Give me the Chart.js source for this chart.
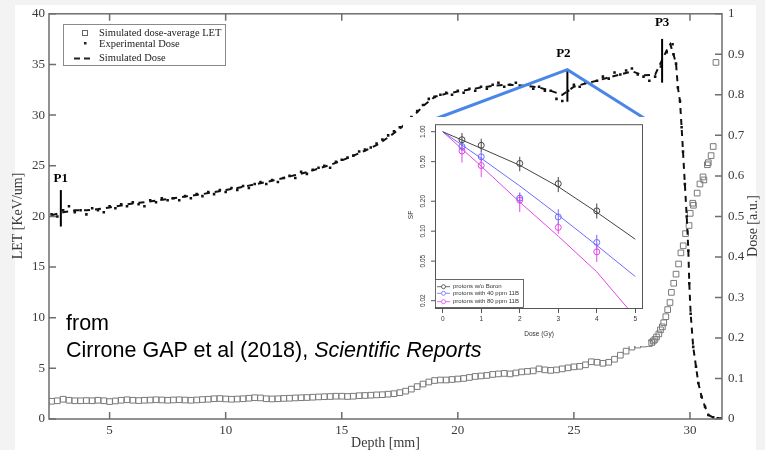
<!DOCTYPE html>
<html>
<head>
<meta charset="utf-8">
<script src="https://cdn.jsdelivr.net/npm/chart.js@4.4.1/dist/chart.umd.min.js"></script>
<style>
  html, body { margin: 0; padding: 0; background: #f3f3f3; }
  #wrap { position: relative; width: 765px; height: 450px; overflow: hidden; }
  #main { position: absolute; left: 0; top: 0; }
  #panel { position: absolute; left: 403px; top: 117px; width: 245px; height: 229px; background: #fff; }
  #panel canvas { display: block; }
  #credit { position: absolute; left: 66px; top: 310px; font: 21.5px/27px "Liberation Sans", Arial, sans-serif; color: #000; white-space: nowrap; }
</style>
</head>
<body>
<div id="wrap">
  <canvas id="main" width="765" height="450"></canvas>
  <div id="panel"><canvas id="inset" width="245" height="229"></canvas></div>
  <div id="credit">from<br>Cirrone GAP et al (2018), <i>Scientific Reports</i></div>
</div>
<script>
// ---- main figure data (depth in mm) ----
const depthTicks = [5, 10, 15, 20, 25, 30];
const letTicks = [0, 5, 10, 15, 20, 25, 30, 35, 40];
const doseTicks = [0, 0.1, 0.2, 0.3, 0.4, 0.5, 0.6, 0.7, 0.8, 0.9, 1];

// simulated dose-average LET, one value every 0.25 mm from 2.5 mm
const letStart = 2.5, letStep = 0.25;
const letValues = [
  1.75, 1.8,
  1.95, 1.85, 1.8, 1.8,
  1.82, 1.8, 1.85, 1.8,
  1.72, 1.78, 1.85, 1.9,
  1.85, 1.82, 1.85, 1.87,
  1.9, 1.88, 1.85, 1.88,
  1.9, 1.87, 1.85, 1.88,
  1.92, 1.95, 2.0, 2.02,
  1.98, 1.95, 1.97, 2.0,
  2.05, 2.1, 2.08, 2.0,
  1.98, 2.0, 2.03, 2.05,
  2.08, 2.1, 2.12, 2.15,
  2.18, 2.2, 2.22, 2.25,
  2.25, 2.22, 2.25, 2.3,
  2.32, 2.35, 2.38, 2.4,
  2.45, 2.5, 2.6, 2.75,
  2.95, 3.2, 3.45, 3.65,
  3.8, 3.85, 3.85, 3.9,
  3.95, 4.0, 4.1, 4.2,
  4.25, 4.3, 4.4, 4.45,
  4.5, 4.45, 4.55, 4.65,
  4.7, 4.75, 4.95, 4.85,
  4.8, 4.85, 4.95, 5.05,
  5.15, 5.2, 5.35, 5.65,
  5.6, 5.5, 5.6, 5.9,
  6.3, 6.7, 7.1, 7.3,
  7.4, 7.45
];
// LET near and past the Bragg peak
const letTailDepth = [28.35, 28.42, 28.49, 28.56, 28.66, 28.73, 28.81, 28.87, 28.96, 29.04, 29.14, 29.2, 29.3, 29.4, 29.51, 29.61,
  29.71, 29.81, 29.96, 30.01, 30.12, 30.15, 30.31, 30.43, 30.56, 30.6, 30.75, 30.79, 30.91, 31.0, 31.12];
const letTailValues = [7.55, 7.7, 7.85, 8.1, 8.4, 8.8, 9.1, 9.5, 10.1, 10.8, 11.5, 12.5, 13.4, 14.3, 15.3, 16.4,
  17.1, 18.3, 19.1, 20.3, 21.3, 21.1, 22.3, 23.2, 23.9, 23.6, 25.1, 25.3, 26.0, 26.9, 35.2];

// experimental dose (a.u.), every 0.25 mm from 2.5 mm
const expStart = 2.5, expStep = 0.25;
const expDose = [
  0.505, 0.50,
  0.515, 0.525, 0.51, 0.515,
  0.505, 0.52, 0.515, 0.51,
  0.525, 0.52, 0.53, 0.525,
  0.535, 0.53, 0.525, 0.54,
  0.535, 0.545, 0.54, 0.545,
  0.54, 0.55, 0.545, 0.555,
  0.55, 0.56, 0.555, 0.565,
  0.56, 0.57, 0.565, 0.575,
  0.57, 0.58, 0.585, 0.58,
  0.59, 0.585, 0.595, 0.6,
  0.595, 0.61, 0.605, 0.615,
  0.62, 0.625, 0.62, 0.635,
  0.64, 0.645, 0.65, 0.66,
  0.665, 0.67, 0.68, 0.69,
  0.7, 0.71, 0.72, 0.73,
  0.745, 0.76, 0.775, 0.79,
  0.795, 0.8, 0.805, 0.8,
  0.81, 0.805, 0.815, 0.81,
  0.82, 0.815, 0.825, 0.83,
  0.82, 0.825, 0.83, 0.82,
  0.825, 0.815, 0.82, 0.81,
  0.81, 0.79, 0.785, 0.81,
  0.825, 0.82, 0.83, 0.825,
  0.835, 0.845, 0.84, 0.855,
  0.85, 0.86, 0.865, 0.85,
  0.845, 0.835, 0.845, 0.87,
  0.905, 0.925
];

// simulated dose, every 0.5 mm from 2.5 mm
const simStart = 2.5, simStep = 0.5;
const simDose = [
  0.503,
  0.51, 0.515,
  0.515, 0.518,
  0.522, 0.527,
  0.532, 0.535,
  0.539, 0.543,
  0.547, 0.551,
  0.555, 0.56,
  0.565, 0.57,
  0.576, 0.582,
  0.588, 0.595,
  0.602, 0.609,
  0.618, 0.627,
  0.638, 0.65,
  0.662, 0.676,
  0.695, 0.716,
  0.742, 0.772,
  0.795, 0.803,
  0.808, 0.813,
  0.818, 0.822,
  0.825, 0.824,
  0.822, 0.818,
  0.81, 0.80,
  0.82, 0.828,
  0.835, 0.843,
  0.85, 0.858,
  0.848, 0.85
];
const simPeakDepth = [28.75, 29.0, 29.15];
const simPeakDose = [0.88, 0.91, 0.925];

// distal fall-off, shared by measurement and simulation
const falloffDepth = [29.29, 29.4, 29.48, 29.57, 29.64, 29.7, 29.78, 29.86, 29.93, 29.97, 30.03, 30.14, 30.26, 30.36, 30.5, 30.65, 30.79, 31.0, 31.2, 31.38];
const falloffDose = [0.90, 0.877, 0.818, 0.785, 0.72, 0.66, 0.58, 0.50, 0.416, 0.335, 0.26, 0.178, 0.129, 0.089, 0.055, 0.03, 0.01, 0.004, 0.002, 0.002];

// P1..P3 markers: depth, dose range
const markerNames = ['P1', 'P2', 'P3'];
const markerDepth = [2.9, 24.72, 28.8];
const markerLow = [0.475, 0.783, 0.83];
const markerHigh = [0.565, 0.862, 0.938];

// ---- inset (survival fraction) data ----
const insetDoses = [0.5, 1, 2, 3, 4];
const sfNoBoron = [0.83, 0.73, 0.48, 0.30, 0.16];
const sfNoBoronLo = [0.72, 0.63, 0.40, 0.247, 0.134];
const sfNoBoronHi = [0.97, 0.85, 0.56, 0.35, 0.19];
const sf40 = [0.71, 0.56, 0.215, 0.139, 0.077];
const sf40Lo = [0.64, 0.49, 0.19, 0.118, 0.065];
const sf40Hi = [0.77, 0.64, 0.245, 0.166, 0.092];
const sf80 = [0.64, 0.457, 0.205, 0.109, 0.062];
const sf80Lo = [0.49, 0.35, 0.156, 0.094, 0.049];
const sf80Hi = [0.72, 0.55, 0.24, 0.122, 0.075];
const fitDose = [0, 1, 2, 3, 4, 5];
const fitNoBoron = [1.0, 0.68, 0.46, 0.28, 0.155, 0.083];
const fit40 = [1.0, 0.54, 0.285, 0.145, 0.072, 0.035];
const fit80Dose = [0, 1, 2, 3, 4, 4.82];
const fit80 = [1.0, 0.45, 0.196, 0.089, 0.039, 0.0165];
const sfTicks = [0.02, 0.05, 0.1, 0.2, 0.5, 1];
const sfTickLabels = ['0.02', '0.05', '0.10', '0.20', '0.50', '1.00'];
const gyTicks = [0, 1, 2, 3, 4, 5];

const serif = '"Liberation Serif", "Times New Roman", serif';
const sans = '"Liberation Sans", Arial, sans-serif';
const axisColor = '#6e6e6e';
const textColor = '#3a3a3a';

function grid(start, step, values) {
  return values.map((v, i) => ({ x: +(start + i * step).toFixed(3), y: v }));
}
function pairs(xs, ys) {
  return xs.map((x, i) => ({ x: x, y: ys[i] }));
}

const letPoints = grid(letStart, letStep, letValues).concat(pairs(letTailDepth, letTailValues));
const expPoints = grid(expStart, expStep, expDose).concat(pairs(falloffDepth, falloffDose));
const simPoints = grid(simStart, simStep, simDose).concat(pairs(simPeakDepth, simPeakDose), pairs(falloffDepth, falloffDose));

const mainDecor = {
  id: 'mainDecor',
  beforeDraw(chart) {
    const c = chart.ctx;
    c.save();
    c.fillStyle = '#f3f3f3';
    c.fillRect(0, 0, chart.width, chart.height);
    c.fillStyle = '#ffffff';
    c.fillRect(15, 5, 741, 445);
    c.restore();
  },
  afterDraw(chart) {
    const c = chart.ctx;
    const a = chart.chartArea;
    const x = chart.scales.x, yl = chart.scales.yLet, yd = chart.scales.yDose;
    c.save();

    // frame and inward ticks
    c.strokeStyle = axisColor;
    c.lineWidth = 1.5;
    c.strokeRect(a.left, a.top, a.right - a.left, a.bottom - a.top);
    c.beginPath();
    depthTicks.forEach(v => {
      const px = x.getPixelForValue(v);
      c.moveTo(px, a.bottom); c.lineTo(px, a.bottom - 7);
      c.moveTo(px, a.top); c.lineTo(px, a.top + 7);
    });
    letTicks.forEach(v => {
      const py = yl.getPixelForValue(v);
      c.moveTo(a.left, py); c.lineTo(a.left + 7, py);
    });
    doseTicks.forEach(v => {
      const py = yd.getPixelForValue(v);
      c.moveTo(a.right, py); c.lineTo(a.right - 7, py);
    });
    c.stroke();

    // axis titles
    c.fillStyle = textColor;
    c.font = '14px ' + serif;
    c.textAlign = 'center';
    c.textBaseline = 'middle';
    c.save(); c.translate(18, 216); c.rotate(-Math.PI / 2); c.fillText('LET [KeV/um]', 0, 0); c.restore();
    c.save(); c.translate(753, 226); c.rotate(-Math.PI / 2); c.fillText('Dose [a.u.]', 0, 0); c.restore();
    c.fillText('Depth [mm]', (a.left + a.right) / 2, 443);

    // markers P1..P3
    c.strokeStyle = '#000';
    c.lineWidth = 2;
    c.fillStyle = '#000';
    c.font = 'bold 13px ' + serif;
    c.textBaseline = 'alphabetic';
    const markerTops = [];
    markerNames.forEach((name, i) => {
      const px = x.getPixelForValue(markerDepth[i]);
      const top = yd.getPixelForValue(markerHigh[i]);
      c.beginPath();
      c.moveTo(px, yd.getPixelForValue(markerLow[i]));
      c.lineTo(px, top);
      c.stroke();
      c.fillText(name, px - (i === 1 ? 4 : 0), top - (i === 0 ? 8 : 13));
      markerTops.push([px, top]);
    });

    // zoom lines from P2 to the inset
    c.strokeStyle = '#4a86e8';
    c.lineWidth = 3;
    c.beginPath();
    c.moveTo(435, 119);
    c.lineTo(markerTops[1][0], markerTops[1][1]);
    c.lineTo(645.5, 119);
    c.stroke();

    // legend
    c.fillStyle = '#fff';
    c.fillRect(63, 24, 163, 42);
    c.strokeStyle = '#8a8a8a';
    c.lineWidth = 1;
    c.strokeRect(63.5, 24.5, 162, 41);
    c.strokeStyle = '#666';
    c.strokeRect(82.5, 30.5, 5, 5);
    c.fillStyle = '#222';
    c.fillRect(84, 42, 2.5, 2.5);
    c.fillRect(74, 57.5, 6, 2);
    c.fillRect(84, 57.5, 6, 2);
    c.font = '10.5px ' + serif;
    c.textAlign = 'left';
    c.textBaseline = 'middle';
    c.fillText('Simulated dose-average LET', 99, 33);
    c.fillText('Experimental Dose', 99, 44);
    c.fillText('Simulated Dose', 99, 58);
    c.restore();
  }
};

new Chart(document.getElementById('main'), {
  type: 'scatter',
  data: {
    datasets: [
      {
        label: 'Experimental Dose',
        data: expPoints,
        yAxisID: 'yDose',
        pointStyle: 'rect',
        pointRadius: 1.8,
        backgroundColor: '#111',
        borderColor: '#111',
        borderWidth: 0,
        showLine: false
      },
      {
        label: 'Simulated Dose',
        data: simPoints,
        yAxisID: 'yDose',
        showLine: true,
        borderColor: '#111',
        borderWidth: 2,
        borderDash: [6, 5],
        pointRadius: 0,
        tension: 0
      },
      {
        label: 'Simulated dose-average LET',
        data: letPoints,
        yAxisID: 'yLet',
        pointStyle: 'rect',
        pointRadius: 4,
        backgroundColor: 'rgba(255,255,255,0)',
        borderColor: '#7a7a7a',
        borderWidth: 1,
        showLine: false
      }
    ]
  },
  options: {
    responsive: false,
    animation: false,
    events: [],
    layout: { padding: { top: 13, left: 0, right: 0, bottom: 0 } },
    plugins: { legend: { display: false }, tooltip: { enabled: false } },
    scales: {
      x: {
        type: 'linear',
        min: 2.39,
        max: 31.38,
        grid: { display: false, drawTicks: false },
        border: { display: false },
        ticks: { font: { family: serif, size: 13 }, color: textColor, padding: 4, maxRotation: 0 },
        afterBuildTicks: s => { s.ticks = depthTicks.map(v => ({ value: v })); },
        afterFit: s => { s.height = 31; }
      },
      yLet: {
        position: 'left',
        min: 0,
        max: 40,
        grid: { display: false, drawTicks: false },
        border: { display: false },
        ticks: { font: { family: serif, size: 13 }, color: textColor, padding: 4 },
        afterBuildTicks: s => { s.ticks = letTicks.map(v => ({ value: v })); },
        afterFit: s => { s.width = 49; }
      },
      yDose: {
        position: 'right',
        min: 0,
        max: 1,
        grid: { display: false, drawTicks: false },
        border: { display: false },
        ticks: {
          font: { family: serif, size: 13 }, color: textColor, padding: 6,
          callback: v => String(Number(v.toFixed(1)))
        },
        afterBuildTicks: s => { s.ticks = doseTicks.map(v => ({ value: v })); },
        afterFit: s => { s.width = 43; }
      }
    }
  },
  plugins: [mainDecor]
});

// ---- inset ----
const insetSeries = [
  { name: 'protons w/o Boron', color: '#444444', sf: sfNoBoron, lo: sfNoBoronLo, hi: sfNoBoronHi, fx: fitDose, fy: fitNoBoron },
  { name: 'protons with 40 ppm 11B', color: '#6b6bff', sf: sf40, lo: sf40Lo, hi: sf40Hi, fx: fitDose, fy: fit40 },
  { name: 'protons with 80 ppm 11B', color: '#e048e6', sf: sf80, lo: sf80Lo, hi: sf80Hi, fx: fit80Dose, fy: fit80 }
];

const insetDecor = {
  id: 'insetDecor',
  beforeDatasetsDraw(chart) {
    const c = chart.ctx, x = chart.scales.x, y = chart.scales.y;
    c.save();
    c.lineWidth = 1;
    insetSeries.forEach(s => {
      c.strokeStyle = s.color;
      c.beginPath();
      insetDoses.forEach((d, i) => {
        const px = x.getPixelForValue(d);
        c.moveTo(px, y.getPixelForValue(s.lo[i]));
        c.lineTo(px, y.getPixelForValue(s.hi[i]));
      });
      c.stroke();
    });
    c.restore();
  },
  afterDraw(chart) {
    const c = chart.ctx, a = chart.chartArea, y = chart.scales.y;
    c.save();
    c.strokeStyle = '#555';
    c.lineWidth = 1;
    c.strokeRect(a.left + 0.5, a.top + 0.5, a.right - a.left - 1, a.bottom - a.top - 1);

    // y tick marks outside the box
    c.beginPath();
    sfTicks.forEach(v => {
      const py = y.getPixelForValue(v);
      c.moveTo(a.left - 4, py); c.lineTo(a.left, py);
    });
    c.stroke();

    c.fillStyle = '#333';
    c.font = '6.5px ' + sans;
    c.textAlign = 'center';
    c.textBaseline = 'middle';
    sfTicks.forEach((v, i) => {
      c.save();
      c.translate(20.5, y.getPixelForValue(v));
      c.rotate(-Math.PI / 2);
      c.fillText(sfTickLabels[i], 0, 0);
      c.restore();
    });
    c.save(); c.translate(8.7, 98); c.rotate(-Math.PI / 2); c.fillText('SF', 0, 0); c.restore();
    c.fillText('Dose (Gy)', (a.left + a.right) / 2, 217);

    // legend
    const lx = a.left, ly = 162;
    c.fillStyle = '#fff';
    c.fillRect(lx, ly, 88, 28);
    c.strokeStyle = '#444';
    c.lineWidth = 0.8;
    c.strokeRect(lx + 0.5, ly + 0.5, 88, 28);
    const rows = [7.7, 14.3, 22.7];
    c.font = '6px ' + sans;
    c.textAlign = 'left';
    insetSeries.forEach((s, i) => {
      const ry = ly + rows[i];
      c.strokeStyle = s.color;
      c.beginPath();
      c.moveTo(lx + 2, ry); c.lineTo(lx + 15, ry);
      c.stroke();
      c.beginPath();
      c.arc(lx + 8.5, ry, 2, 0, Math.PI * 2);
      c.fillStyle = '#fff';
      c.fill();
      c.stroke();
      c.fillStyle = '#333';
      c.fillText(s.name, lx + 18, ry);
    });
    c.restore();
  }
};

const insetDatasets = [];
insetSeries.forEach(s => {
  insetDatasets.push({
    label: s.name + ' fit',
    data: pairs(s.fx, s.fy),
    showLine: true,
    borderColor: s.color,
    borderWidth: 1,
    pointRadius: 0,
    tension: 0
  });
  insetDatasets.push({
    label: s.name,
    data: pairs(insetDoses, s.sf),
    showLine: false,
    pointStyle: 'circle',
    pointRadius: 3,
    borderColor: s.color,
    backgroundColor: 'rgba(255,255,255,0)',
    borderWidth: 1
  });
});

new Chart(document.getElementById('inset'), {
  type: 'scatter',
  data: { datasets: insetDatasets },
  options: {
    responsive: false,
    animation: false,
    events: [],
    layout: { padding: { top: 2, right: 2.3, left: 0, bottom: 0 } },
    plugins: { legend: { display: false }, tooltip: { enabled: false } },
    scales: {
      x: {
        type: 'linear',
        min: -0.2,
        max: 5.2,
        grid: { drawOnChartArea: false, drawTicks: true, tickLength: 4, color: '#555' },
        border: { display: false },
        ticks: { font: { family: sans, size: 6.5 }, color: '#333', padding: 2, maxRotation: 0 },
        afterBuildTicks: s => { s.ticks = gyTicks.map(v => ({ value: v })); },
        afterFit: s => { s.height = 37; }
      },
      y: {
        type: 'logarithmic',
        min: 0.0165,
        max: 1.19,
        grid: { display: false, drawTicks: false },
        border: { display: false },
        ticks: { font: { family: sans, size: 7 }, color: 'rgba(0,0,0,0)' },
        afterBuildTicks: s => { s.ticks = sfTicks.map(v => ({ value: v })); },
        afterFit: s => { s.width = 32; }
      }
    }
  },
  plugins: [insetDecor]
});
</script>
</body>
</html>
